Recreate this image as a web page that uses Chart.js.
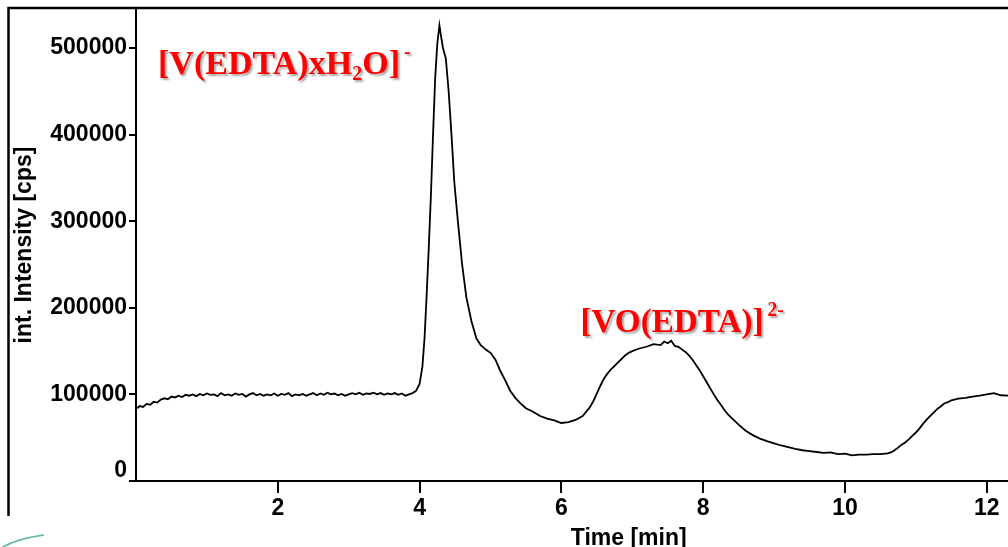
<!DOCTYPE html>
<html>
<head>
<meta charset="utf-8">
<script src="https://cdn.jsdelivr.net/npm/chart.js@4.4.1/dist/chart.umd.min.js"></script>
<style>
  html, body { margin: 0; padding: 0; background: #fff; overflow: hidden; }
  #wrap { position: relative; width: 1008px; height: 547px; }
</style>
</head>
<body>
<div id="wrap"><canvas id="chroma"></canvas></div>
<script>
// retention time [min]
const timeMin = [
  0.02, 0.05, 0.1, 0.15, 0.2, 0.25, 0.3, 0.35, 0.4, 0.45, 0.5, 0.55, 0.6, 0.65, 0.7, 0.75, 0.8, 0.85, 0.9, 0.95,
  1.0, 1.05, 1.1, 1.15, 1.2, 1.25, 1.3, 1.35, 1.4, 1.45, 1.5, 1.55, 1.6, 1.65, 1.7, 1.75, 1.8, 1.85, 1.9, 1.95,
  2.0, 2.05, 2.1, 2.15, 2.2, 2.25, 2.3, 2.35, 2.4, 2.45, 2.5, 2.55, 2.6, 2.65, 2.7, 2.75, 2.8, 2.85, 2.9, 2.95,
  3.0, 3.05, 3.1, 3.15, 3.2, 3.25, 3.3, 3.35, 3.4, 3.45, 3.5, 3.55, 3.6, 3.65, 3.7, 3.75, 3.8, 3.85, 3.9, 3.95,
  4.0, 4.04, 4.07, 4.1, 4.13, 4.16, 4.19, 4.22, 4.25, 4.28, 4.3, 4.33, 4.37, 4.41, 4.45, 4.49, 4.54, 4.6, 4.66, 4.73,
  4.8, 4.86, 4.93, 5.0, 5.07, 5.14, 5.21, 5.28, 5.35, 5.42, 5.5, 5.6, 5.7, 5.8, 5.9,
  6.0, 6.1, 6.2, 6.3, 6.4, 6.45, 6.5, 6.55, 6.6, 6.65, 6.7, 6.75, 6.8, 6.85, 6.9, 6.95,
  7.0, 7.1, 7.2, 7.3, 7.4, 7.45, 7.5, 7.55, 7.6, 7.65, 7.7, 7.75, 7.8, 7.85, 7.9, 7.95,
  8.0, 8.05, 8.1, 8.15, 8.2, 8.25, 8.3, 8.35, 8.4, 8.5, 8.6, 8.7, 8.8, 8.9,
  9.0, 9.1, 9.2, 9.3, 9.4, 9.5, 9.6, 9.7, 9.8, 9.9,
  10.0, 10.1, 10.2, 10.3, 10.4, 10.5, 10.6, 10.65, 10.7, 10.75, 10.8, 10.85, 10.9, 10.95,
  11.0, 11.05, 11.1, 11.15, 11.2, 11.25, 11.3, 11.35, 11.4, 11.45, 11.5, 11.6, 11.7, 11.8, 11.9,
  12.0, 12.1, 12.2, 12.3, 12.35
];

// int. intensity [cps]
const intensity = [
  84000, 86500, 85500, 89000, 88000, 91500, 90500, 94000, 95500, 94500, 97500, 96500, 98500, 97000, 99500, 98500, 100000, 98000, 100500, 99000,
  101000, 99500, 100000, 98000, 101500, 99000, 100000, 98500, 101000, 99500, 100500, 97500, 100000, 101500, 99000, 100500, 98500, 100000, 99000, 101000,
  98500, 100500, 99500, 101500, 98000, 100000, 99000, 100500, 98500, 100000, 101500, 99000, 101000, 99500, 102000, 100000, 101000, 99000, 100500, 98500,
  100000, 101500, 100000, 102000, 99500, 101000, 100500, 102000, 100000, 101500, 99500, 101000, 100000, 101500, 99500, 101000, 98500, 100000, 101500, 104000,
  112000, 132000, 165000, 215000, 270000, 330000, 400000, 465000, 505000, 526000, 515000, 500000, 488000, 450000, 400000, 345000, 300000, 250000, 212000, 185000,
  165000, 157000, 152000, 148000, 140000, 127000, 116000, 104000, 96000, 90000, 84000, 80000, 75000, 72000, 70000,
  67000, 68000, 70500, 75000, 85000, 92000, 101000, 110000, 118000, 124000, 129000, 133000, 137000, 141000, 145000, 148000,
  150000, 153000, 155000, 158000, 157000, 161000, 159000, 162000, 156000, 155000, 152000, 149000, 145000, 140000, 134000, 128000,
  121000, 114000, 107000, 100000, 93500, 88000, 82000, 77000, 73000, 65000, 58000, 53000, 49000, 46000,
  43500, 41000, 39000, 37000, 35500, 34500, 33500, 32500, 33000, 31000,
  31500, 29500, 30500, 30500, 31000, 31000, 32000, 33000, 35500, 38500, 42000, 44500, 48000, 52000,
  56000, 60500, 66000, 70500, 75000, 79000, 83000, 86000, 89500, 91000, 93000, 95000, 96000, 97500, 98500,
  100000, 101500, 99000, 98500, 99500
];

const xTicks = [2, 4, 6, 8, 10, 12];
const yTicks = [0, 100000, 200000, 300000, 400000, 500000];

const xTitle = "Time [min]";
const yTitle = "int. Intensity [cps]";

const axisFont = { family: "'Liberation Sans', Arial, sans-serif", size: 23, weight: "bold" };
const axisFontCss = "bold 23px 'Liberation Sans', Arial, sans-serif";

const points = timeMin.map((t, i) => ({ x: t, y: intensity[i] }));

// frame, red species labels, the raised "0" label and x title
const decorPlugin = {
  id: "decor",
  afterDraw(chart) {
    const ctx = chart.ctx;
    const xs = chart.scales.x;
    const ys = chart.scales.y;

    ctx.save();
    ctx.strokeStyle = "#000";
    ctx.lineWidth = 2.5;
    ctx.beginPath();
    ctx.moveTo(8.5, 516);
    ctx.lineTo(8.5, 8);
    ctx.lineTo(1008, 8);
    ctx.stroke();

    ctx.strokeStyle = "#5bb89a";
    ctx.lineWidth = 1.5;
    ctx.beginPath();
    ctx.moveTo(0, 549);
    ctx.quadraticCurveTo(14, 539, 44, 535);
    ctx.stroke();

    ctx.font = axisFontCss;
    ctx.fillStyle = "#000";
    // zero label sits just above the x axis
    ctx.textAlign = "right";
    ctx.textBaseline = "middle";
    ctx.fillText("0", ys.left + ys.width - 9, ys.getPixelForValue(0) - 10);
    // x axis title
    ctx.textAlign = "center";
    ctx.textBaseline = "alphabetic";
    ctx.fillText(xTitle, xs.getPixelForValue(6.95), 545);
    ctx.restore();

    drawSpecies(ctx, xs.getPixelForValue(0.31), ys.getPixelForValue(470000), 242, [
      { t: "[V(EDTA)xH" },
      { t: "2", sub: true },
      { t: "O]" },
      { t: "-", sup: true }
    ]);
    drawSpecies(ctx, xs.getPixelForValue(6.27), ys.getPixelForValue(172000), 183, [
      { t: "[VO(EDTA)]" },
      { t: "2-", sup: true }
    ]);
  }
};

function drawSpecies(ctx, x, y, mainWidth, parts) {
  const big = "bold 34px 'Liberation Serif', 'Times New Roman', serif";
  const small = "bold 20px 'Liberation Serif', 'Times New Roman', serif";
  ctx.save();
  let w = 0;
  parts.forEach(p => {
    if (p.sup) return;
    ctx.font = p.sub ? small : big;
    w += ctx.measureText(p.t).width;
  });
  const sx = mainWidth / w;
  ctx.translate(x, y);
  ctx.scale(sx, 1);
  ctx.fillStyle = "#ff0000";
  ctx.textAlign = "left";
  ctx.textBaseline = "alphabetic";
  ctx.shadowColor = "rgba(0,0,0,0.35)";
  ctx.shadowOffsetX = 2;
  ctx.shadowOffsetY = 2;
  ctx.shadowBlur = 2;
  let cx = 0;
  parts.forEach(p => {
    ctx.font = (p.sub || p.sup) ? small : big;
    const dy = p.sub ? 6 : p.sup ? -16 : 0;
    const gap = p.sup ? 4 : 0;
    ctx.fillText(p.t, cx + gap, dy);
    cx += ctx.measureText(p.t).width + gap;
  });
  ctx.restore();
}

new Chart(document.getElementById("chroma"), {
  type: "line",
  data: {
    datasets: [{
      data: points,
      borderColor: "#000",
      borderWidth: 1.8,
      pointRadius: 0,
      tension: 0,
      fill: false
    }]
  },
  options: {
    responsive: true,
    maintainAspectRatio: false,
    animation: false,
    layout: { padding: { top: 9, left: 0, right: 0, bottom: 0 } },
    plugins: {
      legend: { display: false },
      tooltip: { enabled: false }
    },
    scales: {
      x: {
        type: "linear",
        min: 0,
        max: 12.3,
        afterFit(scale) {
          scale.height = 66;
          scale.paddingLeft = 0;
          scale.paddingRight = 0;
        },
        afterBuildTicks(scale) { scale.ticks = xTicks.map(v => ({ value: v })); },
        border: { display: true, color: "#000", width: 2 },
        grid: { drawOnChartArea: false, drawTicks: true, tickLength: 12, color: "#000", lineWidth: 2 },
        ticks: { color: "#000", font: axisFont, padding: 2, maxRotation: 0, autoSkip: false },
        title: { display: false }
      },
      y: {
        type: "linear",
        min: 0,
        max: 545000,
        afterFit(scale) {
          scale.width = 136;
          scale.paddingTop = 0;
          scale.paddingBottom = 0;
        },
        afterBuildTicks(scale) { scale.ticks = yTicks.map(v => ({ value: v })); },
        border: { display: true, color: "#000", width: 2 },
        grid: { drawOnChartArea: false, drawTicks: true, tickLength: 7, color: "#000", lineWidth: 2 },
        ticks: { color: "#000", font: axisFont, padding: 2, callback: v => (v === 0 ? "" : String(v)) },
        title: {
          display: true,
          text: yTitle,
          color: "#000",
          font: axisFont,
          padding: { top: 11, bottom: 0 }
        }
      }
    }
  },
  plugins: [decorPlugin]
});
</script>
</body>
</html>
